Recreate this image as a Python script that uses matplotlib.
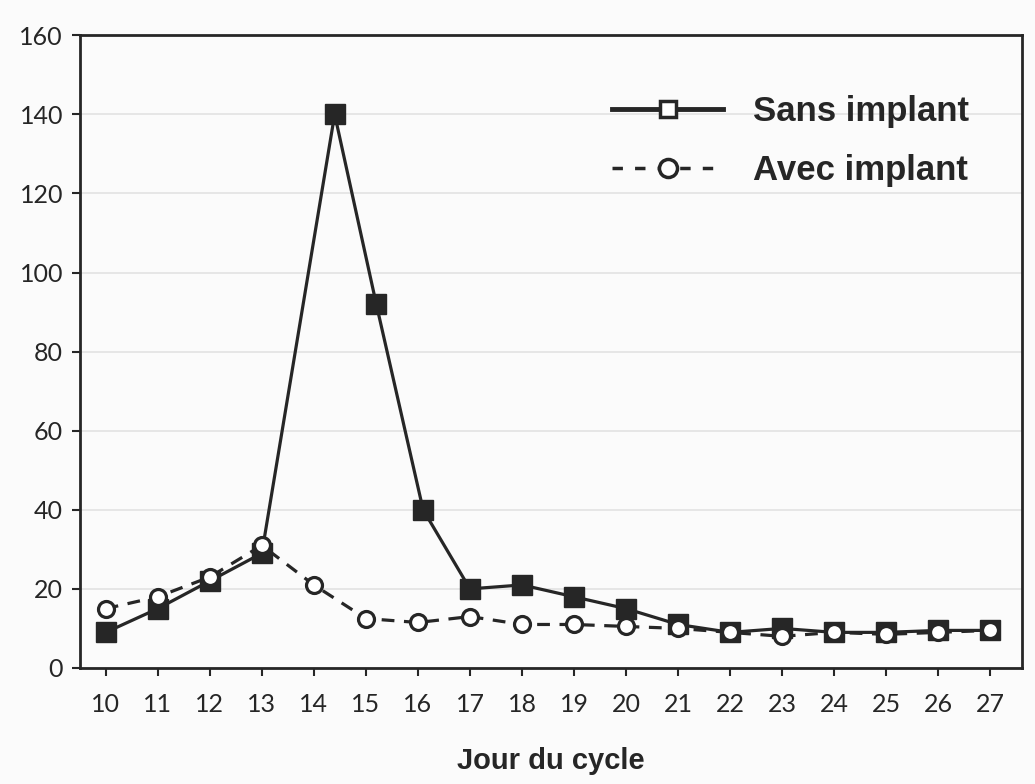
"""
Courbe de concentration hormonale selon le jour du cycle,
avec et sans implant (reproduction d'un graphique scanné).
"""

import matplotlib.pyplot as plt
from matplotlib.lines import Line2D

# Données
jours = [10, 11, 12, 13, 14, 15, 16, 17, 18, 19, 20, 21, 22, 23, 24, 25, 26, 27]
jours_sans = [10, 11, 12, 13, 14.4, 15.2, 16.1, 17, 18, 19, 20, 21, 22, 23, 24, 25, 26, 27]
sans_implant = [9, 15, 22, 29, 140, 92, 40, 20, 21, 18, 15, 11, 9, 10, 9, 9, 9.5, 9.5]
avec_implant = [15, 18, 23, 31, 21, 12.5, 11.5, 13, 11, 11, 10.5, 10, 9, 8, 9, 8.5, 9, 9.5]

graduations_y = [0, 20, 40, 60, 80, 100, 120, 140, 160]
label_x = "Jour du cycle"
legende = ["Sans implant", "Avec implant"]

couleur_trait = "#262626"

fig = plt.figure(figsize=(10.35, 7.84), dpi=100)
fig.patch.set_facecolor("#fbfbfb")
ax = fig.add_axes([0.077, 0.148, 0.91, 0.807])
ax.set_facecolor("#fbfbfb")

# Série sans implant : trait plein, carrés pleins
ax.plot(jours_sans, sans_implant, color=couleur_trait, linewidth=2.3,
        marker="s", markersize=14, markerfacecolor=couleur_trait,
        markeredgecolor=couleur_trait, zorder=3)

# Série avec implant : pointillés, cercles vides (dessinés par-dessus)
ax.plot(jours, avec_implant, color=couleur_trait, linewidth=2.3,
        linestyle=(0, (4, 3)), marker="o", markersize=11.5,
        markerfacecolor="white", markeredgecolor=couleur_trait,
        markeredgewidth=2.3, zorder=4)

ax.set_xlim(9.5, 27.6)
ax.set_ylim(0, 160)
ax.set_yticks(graduations_y)
ax.set_xticks(jours)
ax.tick_params(axis="y", labelsize=18, length=6, width=1.5, colors=couleur_trait,
               direction="out", pad=6)
ax.tick_params(axis="x", labelsize=18, length=6, width=1.5, colors=couleur_trait,
               direction="out", pad=12)
for lab in ax.get_xticklabels() + ax.get_yticklabels():
    lab.set_fontfamily("Lato")

ax.grid(axis="y", color="#e2e2e2", linewidth=1.2)
ax.set_axisbelow(True)
for spine in ax.spines.values():
    spine.set_color(couleur_trait)
    spine.set_linewidth(2)

ax.set_xlabel(label_x, fontsize=21, fontweight="bold", family="Liberation Sans",
              color=couleur_trait, labelpad=22)

# Légende : marqueurs vides dans les deux cas, comme sur l'original
poignees = [
    Line2D([], [], color=couleur_trait, linewidth=3.5, marker="s", markersize=12,
           markerfacecolor="white", markeredgecolor=couleur_trait, markeredgewidth=2.5),
    Line2D([], [], color=couleur_trait, linewidth=2.5, linestyle=(0, (3, 3.5)),
           marker="o", markersize=13, markerfacecolor="white",
           markeredgecolor=couleur_trait, markeredgewidth=2.5),
]
ax.legend(poignees, legende, loc="upper right", bbox_to_anchor=(0.977, 0.955),
          frameon=False, handlelength=3.2, handletextpad=0.85, labelspacing=0.75,
          prop={"family": "Liberation Sans", "weight": "bold", "size": 25},
          labelcolor=couleur_trait)

plt.savefig("out.png", dpi=100, facecolor=fig.get_facecolor())
plt.close()
